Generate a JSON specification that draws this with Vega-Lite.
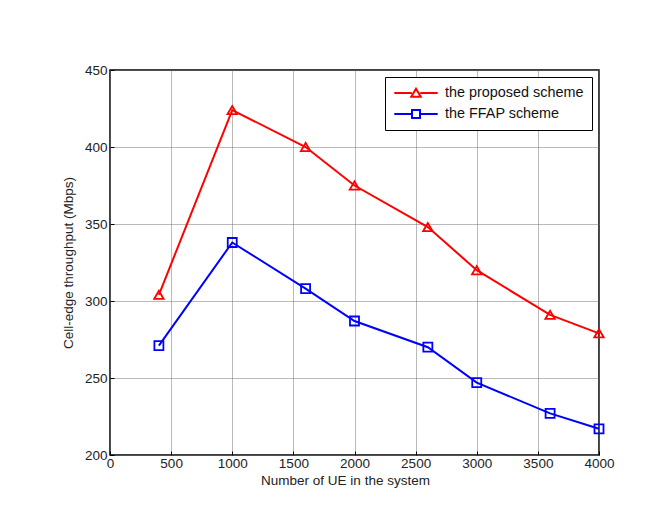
{
  "$schema": "https://vega.github.io/schema/vega-lite/v6.json",
  "width": 489,
  "height": 385,
  "autosize": {"type": "none"},
  "padding": {"left": 110, "top": 70, "right": 71, "bottom": 58},
  "background": "white",
  "config": {
    "font": "Liberation Sans",
    "view": {"stroke": "black", "strokeWidth": 1.5},
    "axis": {
      "labelFont": "Liberation Sans",
      "titleFont": "Liberation Sans",
      "labelFontSize": 13.5,
      "titleFontSize": 13.5,
      "labelColor": "#222",
      "titleColor": "#222",
      "titleFontWeight": "normal",
      "domain": false,
      "ticks": true,
      "tickSize": -4,
      "tickColor": "black",
      "gridColor": "#666",
      "gridDash": [1, 1],
      "gridOpacity": 0.9,
      "gridWidth": 1,
      "format": "d"
    }
  },
  "data": {
    "values": [
      {"ue": 400, "thr": 304, "series": "the proposed scheme"},
      {"ue": 1000, "thr": 424, "series": "the proposed scheme"},
      {"ue": 1600, "thr": 400, "series": "the proposed scheme"},
      {"ue": 2000, "thr": 375, "series": "the proposed scheme"},
      {"ue": 2600, "thr": 348, "series": "the proposed scheme"},
      {"ue": 3000, "thr": 320, "series": "the proposed scheme"},
      {"ue": 3600, "thr": 291, "series": "the proposed scheme"},
      {"ue": 4000, "thr": 279, "series": "the proposed scheme"},
      {"ue": 400, "thr": 271, "series": "the FFAP scheme"},
      {"ue": 1000, "thr": 338, "series": "the FFAP scheme"},
      {"ue": 1600, "thr": 308, "series": "the FFAP scheme"},
      {"ue": 2000, "thr": 287, "series": "the FFAP scheme"},
      {"ue": 2600, "thr": 270, "series": "the FFAP scheme"},
      {"ue": 3000, "thr": 247, "series": "the FFAP scheme"},
      {"ue": 3600, "thr": 227, "series": "the FFAP scheme"},
      {"ue": 4000, "thr": 217, "series": "the FFAP scheme"}
    ]
  },
  "encoding": {
    "x": {
      "field": "ue",
      "type": "quantitative",
      "scale": {"domain": [0, 4000], "nice": false, "zero": false},
      "axis": {"values": [0, 500, 1000, 1500, 2000, 2500, 3000, 3500, 4000], "title": "Number of UE in the system", "titleX": 235, "labelPadding": 5, "titlePadding": 4, "labelFlush": false}
    },
    "y": {
      "field": "thr",
      "type": "quantitative",
      "scale": {"domain": [200, 450], "nice": false, "zero": false},
      "axis": {"values": [200, 250, 300, 350, 400, 450], "title": "Cell-edge throughput (Mbps)", "labelPadding": 7, "titlePadding": 9}
    },
    "color": {
      "field": "series",
      "type": "nominal",
      "scale": {"domain": ["the proposed scheme", "the FFAP scheme"], "range": ["#ff0000", "#0000ff"]},
      "legend": {
        "title": null,
        "orient": "none",
        "legendX": 275,
        "legendY": 7,
        "strokeColor": "black",
        "fillColor": "white",
        "padding": 8,
        "labelFontSize": 14.4,
        "labelColor": "#111",
        "labelFont": "Liberation Sans",
        "symbolSize": 196,
        "symbolStrokeWidth": 2,
        "symbolFillColor": "transparent",
        "symbolOffset": 15,
        "rowPadding": 5,
        "labelOffset": 21
      }
    }
  },
  "layer": [
    {
      "mark": {"type": "line", "strokeWidth": 2},
      "encoding": {"detail": {"field": "series"}}
    },
    {
      "transform": [{"filter": "datum.series == 'the proposed scheme'"}],
      "mark": {"type": "point", "shape": "triangle-up", "size": 90, "strokeWidth": 1.8, "filled": false, "opacity": 1}
    },
    {
      "transform": [{"filter": "datum.series == 'the FFAP scheme'"}],
      "mark": {"type": "point", "shape": "square", "size": 81, "strokeWidth": 1.8, "filled": false, "opacity": 1}
    },
    {
      "transform": [{"filter": "datum.ue > 99999"}],
      "mark": {"type": "point", "filled": false, "strokeWidth": 2},
      "encoding": {
        "shape": {
          "field": "series",
          "type": "nominal",
          "scale": {"domain": ["the proposed scheme", "the FFAP scheme"], "range": ["M-3.1,0H-0.6M0.6,0H3.1M0,-0.62L0.68,0.55H-0.68Z", "M-3.1,0H-0.57M0.57,0H3.1M-0.57,-0.57H0.57V0.57H-0.57Z"]}
        }
      }
    }
  ]
}
